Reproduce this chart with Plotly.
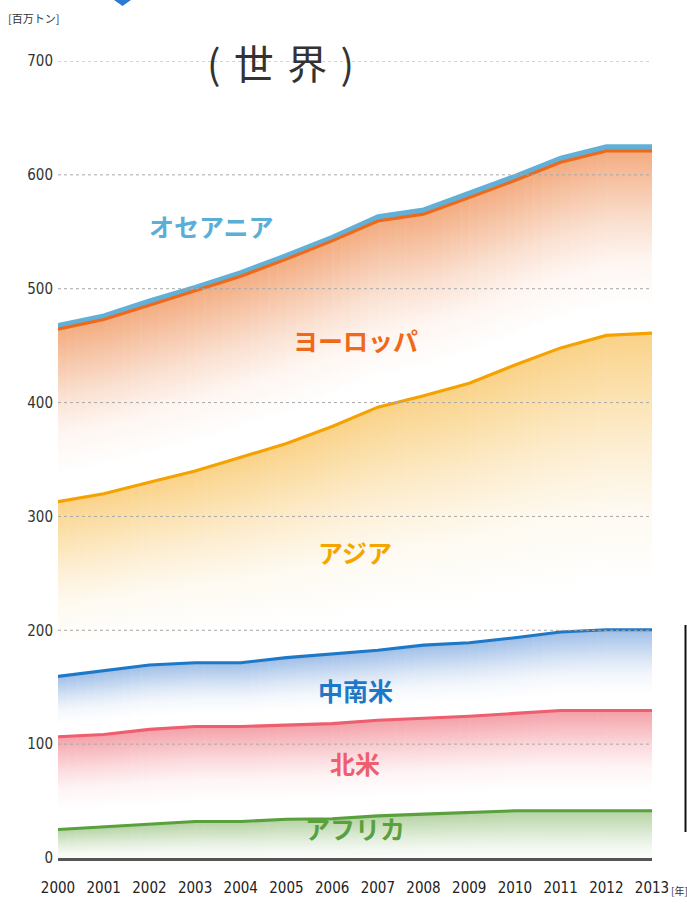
import numpy as np
import plotly.graph_objects as go

years = list(range(2000, 2014))
year_labels = [str(y) for y in years]

# per-region amounts (stacked bottom -> top), million tonnes
africa     = [25, 27.5, 29.5, 32, 32, 34, 34.5, 37, 38.5, 40, 41.5, 41.5, 41.5, 41.5]
n_america  = [81.5, 81, 83.5, 83.5, 83.5, 83, 83.5, 84, 84, 84.5, 85.5, 88, 88, 88]
cs_america = [53, 56, 56.5, 56, 56, 59, 61, 61.5, 64.5, 64.5, 66.5, 69, 71, 71]
asia       = [153.5, 155.5, 160.5, 168.5, 180.5, 188, 200, 213.5, 219, 228, 239.5, 249.5, 258.5, 260.5]
europe     = [151.5, 153, 155.5, 158, 159, 162, 163, 163.5, 159.5, 163, 162, 163, 162, 160]
oceania    = [4, 4, 4.5, 4, 4, 4, 4, 4.5, 4.5, 4.5, 4.5, 4.5, 4.5, 4.5]

y_ticks = [0, 100, 200, 300, 400, 500, 600, 700]

# name, values, line colour, fill colour just under the line, fade fraction of band
series = [
    ("アフリカ",   africa,     "#5AA03C", (180, 211, 162), 1.2),
    ("北米",       n_america,  "#EE5E6E", (244, 160, 168), 0.8),
    ("中南米",     cs_america, "#1E78C8", (158, 190, 231), 0.8),
    ("アジア",     asia,       "#F5A200", (250, 210, 136), 0.85),
    ("ヨーロッパ", europe,     "#EE6A1A", (243, 172, 128), 0.85),
    ("オセアニア", oceania,    "#62B0D8", None, None),
]

def mix(rgb, w):
    return "rgb(%d,%d,%d)" % tuple(round(255 - w * (255 - c)) for c in rgb)

def scale_for(rgb):
    return [[0, mix(rgb, 0)], [0.3, mix(rgb, 0.12)], [0.55, mix(rgb, 0.38)],
            [0.8, mix(rgb, 0.72)], [1, mix(rgb, 1)]]

SUB = 5          # sub-pieces per year so the fade follows the line
EPS = 0.012      # small overlap between pieces to hide seams

fig = go.Figure()
tops = np.cumsum(np.array([s[1] for s in series], dtype=float), axis=0)
yr = np.array(years, dtype=float)

for i, (name, vals, col, rgb, frac) in enumerate(series):
    top = tops[i]
    bottom = tops[i - 1] if i > 0 else np.zeros_like(top)
    if rgb is None:
        fig.add_trace(go.Scatter(x=years + years[::-1], y=list(top) + list(bottom[::-1]),
                                 fill="toself", mode="none", fillcolor=col,
                                 hoverinfo="skip", showlegend=False))
        continue
    cs = scale_for(rgb)
    edges = np.linspace(yr[0], yr[-1], (len(years) - 1) * SUB + 1)
    for a, b in zip(edges[:-1], edges[1:]):
        b2 = min(b + EPS, yr[-1])
        ta, tb = np.interp([a, b2], yr, top)
        ba, bb = np.interp([a, b2], yr, bottom)
        tm = (ta + tb) / 2
        bm = (ba + bb) / 2
        depth = (tm - bm) * frac
        fig.add_trace(go.Scatter(
            x=[a, b2, b2, a], y=[ta, tb, bb, ba], fill="toself", mode="none",
            fillgradient=dict(type="vertical", start=tm - depth, stop=tm, colorscale=cs),
            hoverinfo="skip", showlegend=False))

for v in y_ticks[1:]:
    fig.add_shape(type="line", xref="x", yref="y", x0=2000, x1=2013.08, y0=v, y1=v,
                  layer="above", line=dict(color="#A8A8A8", width=1, dash="dot"))

for i, (name, vals, col, rgb, frac) in enumerate(series):
    fig.add_trace(go.Scatter(x=years, y=tops[i], name=name, mode="lines",
                             line=dict(color=col, width=3.1), hoverinfo="skip",
                             showlegend=False))

label_font = "Noto Sans CJK JP"
labels = [
    ("オセアニア", 2003.37, 555, "#5BAED6"),
    ("ヨーロッパ", 2006.5, 455, "#EE6A1A"),
    ("アジア", 2006.5, 269, "#F5A500"),
    ("中南米", 2006.5, 147.5, "#1E78C8"),
    ("北米", 2006.5, 83.5, "#EE5E6E"),
    ("アフリカ", 2006.5, 26, "#5AA03C"),
]
for txt, x, y, c in labels:
    fig.add_annotation(x=x, y=y, xref="x", yref="y", text="<b>%s</b>" % txt,
                       showarrow=False, font=dict(family=label_font, size=25, color=c))

W, H = 687, 909
L, R, T, B = 58, 35, 61, 51
pw, ph = W - L - R, H - T - B
def px(xp):
    return (xp - L) / pw
def py(yp):
    return (H - B - yp) / ph

fig.update_layout(
    width=W, height=H,
    margin=dict(l=L, r=R, t=T, b=B),
    paper_bgcolor="white", plot_bgcolor="white",
    showlegend=False,
    font=dict(family="Liberation Sans Narrow, DejaVu Sans Condensed, Roboto, sans-serif",
              size=15, color="#333333"),
    xaxis=dict(range=[2000, 2013], tickvals=years, ticktext=year_labels,
               showgrid=False, zeroline=False, showline=True, linecolor="#555555",
               linewidth=2.5, ticks="", ticklabelstandoff=14,
               tickfont=dict(size=15, color="#222222")),
    yaxis=dict(range=[0, 700], tickvals=y_ticks, ticktext=[str(v) for v in y_ticks],
               showgrid=False, zeroline=False, showline=False, ticks="", ticklabelstandoff=4,
               tickfont=dict(size=15, color="#333333")),
)

sp = "\u2004"
fig.add_annotation(x=px(280), y=py(62), xref="paper", yref="paper",
                   text="(" + sp + "世" + sp + "界" + sp + ")",
                   xanchor="center", yanchor="middle",
                   showarrow=False, font=dict(family="Noto Sans CJK JP", size=40, color="#333333"))
fig.add_annotation(x=px(33), y=py(18), xref="paper", yref="paper", text="[百万トン]",
                   xanchor="center", yanchor="middle",
                   showarrow=False, font=dict(family="Noto Sans CJK JP", size=11, color="#333333"))
fig.add_annotation(x=px(679), y=py(890), xref="paper", yref="paper", text="[年]",
                   xanchor="center", yanchor="middle",
                   showarrow=False, font=dict(family="Noto Sans CJK JP", size=10, color="#333333"))

fig.add_shape(type="line", xref="paper", yref="paper", x0=px(685.5), x1=px(685.5),
              y0=py(625), y1=py(832), line=dict(color="#111111", width=2))
fig.add_shape(type="path", xref="paper", yref="paper",
              path="M %f %f L %f %f L %f %f Z" % (px(114), py(0), px(131), py(0), px(122.5), py(6)),
              fillcolor="#2C7BD0", line=dict(width=0))

fig.write_html("out.html", config={"displayModeBar": False},
               post_script="document.body.style.margin='0';")
